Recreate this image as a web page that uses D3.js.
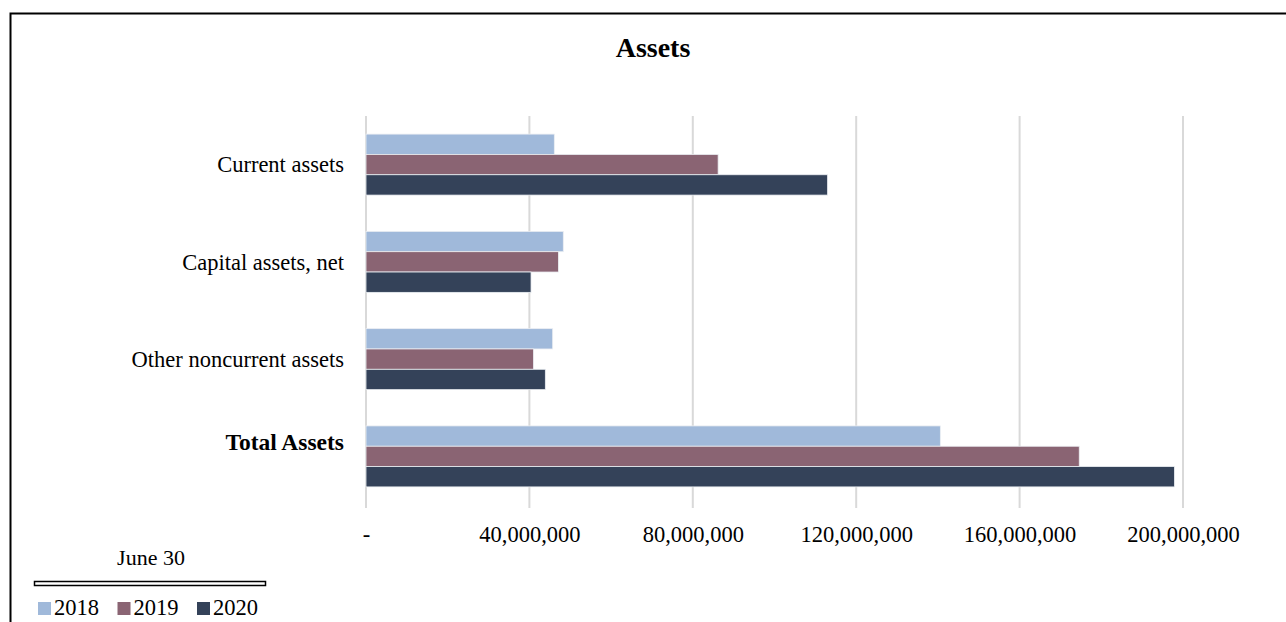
<!DOCTYPE html>
<html><head><meta charset="utf-8">
<script src="https://cdn.jsdelivr.net/npm/d3@7"></script>
<style>
html,body{margin:0;padding:0;background:#fff;}
svg{display:block;font-family:"Liberation Serif","DejaVu Serif",serif;}
</style></head>
<body><svg id="c" width="1286" height="622"></svg>
<script>
const categories = ["Current assets", "Capital assets, net", "Other noncurrent assets", "Total Assets"];
const years = ["2018", "2019", "2020"];
const values2018 = [46100000, 48300000, 45700000, 140600000];
const values2019 = [86200000, 47100000, 41000000, 174600000];
const values2020 = [113000000, 40400000, 43900000, 197900000];
const tickValues = [0, 40000000, 80000000, 120000000, 160000000, 200000000];
const tickLabels = ["-", "40,000,000", "80,000,000", "120,000,000", "160,000,000", "200,000,000"];
const colors = ["#a0b9da", "#8a6473", "#344259"];

const seriesVals = [values2018, values2019, values2020];
const svg = d3.select("#c");

// frame
svg.append("path").attr("d", "M10.5,622 L10.5,13.5 L1286,13.5")
  .attr("fill", "none").attr("stroke", "#000").attr("stroke-width", 2);

// title
svg.append("text").attr("x", 653).attr("y", 57).attr("text-anchor", "middle")
  .attr("font-size", 28).attr("font-weight", "bold").text("Assets");

const x = d3.scaleLinear().domain([0, 200000000]).range([366, 1183]);
const y = d3.scaleBand().domain(categories).range([116, 505]).paddingInner(0.373).paddingOuter(0.186);
const ys = d3.scaleBand().domain(years).range([0, y.bandwidth()]);

// gridlines
svg.append("g").selectAll("line").data(tickValues).join("line")
  .attr("x1", d => x(d)).attr("x2", d => x(d))
  .attr("y1", 116).attr("y2", 508)
  .attr("stroke", "#d9d9d9").attr("stroke-width", 2);

// bars
const groups = svg.append("g").selectAll("g").data(categories).join("g")
  .attr("transform", c => `translate(0,${y(c)})`);
groups.selectAll("rect").data((c, i) => years.map((yr, j) => ({yr, v: seriesVals[j][i], j})))
  .join("rect")
  .attr("x", x(0)).attr("y", d => ys(d.yr))
  .attr("width", d => x(d.v) - x(0)).attr("height", ys.bandwidth())
  .attr("fill", d => colors[d.j])
  .attr("stroke", "#eceff3").attr("stroke-width", 0.8);

// category labels
svg.append("g").selectAll("text").data(categories).join("text")
  .attr("x", 344)
  .attr("y", (c, i) => y(c) + y.bandwidth() / 2 - (i === 3 ? 15 : 0))
  .attr("dy", "0.35em").attr("text-anchor", "end")
  .attr("font-size", (c, i) => i === 3 ? 23.5 : 22.5)
  .attr("font-weight", (c, i) => i === 3 ? "bold" : "normal")
  .text(c => c);

// x axis tick labels
const xAxis = d3.axisBottom(x).tickValues(tickValues)
  .tickFormat((d, i) => tickLabels[i]).tickSize(0).tickPadding(0);
const ax = svg.append("g").attr("transform", "translate(0,526)").call(xAxis);
ax.select(".domain").remove();
ax.selectAll("text").attr("font-size", 22.5).attr("font-family", "Liberation Serif").attr("fill", "#000");

// legend
svg.append("text").attr("x", 151).attr("y", 565).attr("text-anchor", "middle")
  .attr("font-size", 22).text("June 30");
svg.append("rect").attr("x", 34.5).attr("y", 581.5).attr("width", 231).attr("height", 4)
  .attr("fill", "none").attr("stroke", "#000").attr("stroke-width", 1.5);
const lg = svg.append("g").selectAll("g").data(years).join("g")
  .attr("transform", (d, i) => `translate(${38 + i * 79.5},0)`);
lg.append("rect").attr("x", 0).attr("y", 602).attr("width", 13).attr("height", 13)
  .attr("fill", (d, i) => colors[i]);
lg.append("text").attr("x", 16).attr("y", 615).attr("font-size", 22.5).text(d => d);
</script></body></html>
